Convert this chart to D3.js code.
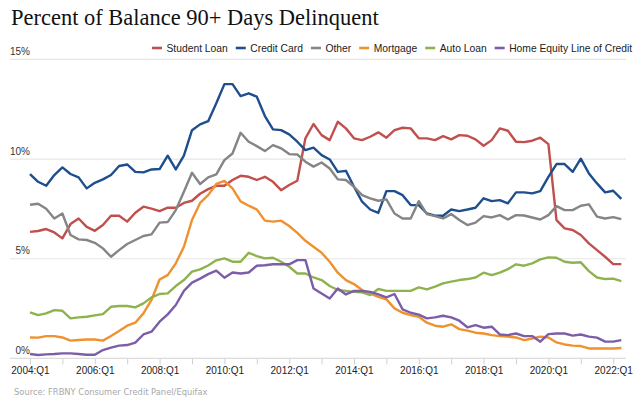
<!DOCTYPE html>
<html><head><meta charset="utf-8">
<script src="https://cdn.jsdelivr.net/npm/d3@7"></script>
<style>
html,body{margin:0;padding:0;background:#fff;}
svg{display:block;}
</style></head>
<body>
<svg id="chart" width="640" height="404"></svg>
<script>
// ---- data ----
const startYear = 2004; // quarters from 2004:Q1 to 2022:Q2
const seriesNames = ["Student Loan","Credit Card","Other","Mortgage","Auto Loan","Home Equity Line of Credit"];
const seriesColors = ["#c0504d","#1f4e8c","#858585","#f0912f","#8fb24f","#7b5ea7"];
const studentLoan = [6.35,6.39,6.49,6.32,6.02,6.74,7.02,6.6,6.4,6.69,7.16,7.16,6.86,7.31,7.61,7.51,7.39,7.56,7.56,7.8,
  7.91,8.26,8.49,8.66,8.66,8.95,9.16,9.11,8.95,9.11,8.86,8.44,8.7,8.91,11.04,11.76,11.2,10.95,11.87,11.54,
  11.04,10.95,11.12,11.34,11.07,11.45,11.57,11.54,11.04,11.04,10.95,11.15,10.99,11.2,11.17,10.99,10.67,10.95,11.54,11.42,
  10.87,10.85,10.92,11.07,10.75,6.94,6.52,6.44,6.19,5.77,5.43,5.1,4.73,4.73];
const creditCard = [9.25,8.86,8.66,9.2,9.58,9.25,9.08,8.53,8.81,8.98,9.2,9.65,9.73,9.36,9.33,9.48,9.5,10.17,9.48,10.17,
  11.45,11.74,11.9,12.8,13.76,13.76,13.16,13.3,13.13,12.16,11.49,11.45,11.24,10.87,10.45,10.57,10.2,9.98,9.36,9.41,
  8.61,7.86,7.47,7.3,8.39,8.39,8.19,7.69,7.69,7.27,7.16,7.16,7.47,7.39,7.47,7.56,8.03,7.89,7.94,7.78,
  8.33,8.33,8.28,8.39,9.11,9.75,9.75,9.36,10.02,9.28,8.78,8.33,8.41,8.0];
const other = [7.71,7.76,7.51,7.02,7.27,6.19,5.97,5.94,5.8,5.52,5.1,5.43,5.74,5.94,6.14,6.22,6.81,6.84,7.44,8.36,
  9.31,8.75,9.08,9.23,9.95,10.28,11.32,10.87,10.65,10.4,10.7,10.54,10.25,10.23,9.87,9.62,9.83,9.53,8.98,8.95,
  8.61,8.19,8.03,7.91,7.98,7.27,7.02,7.02,7.89,7.24,7.14,7.02,7.24,6.94,6.69,6.81,7.14,7.07,7.19,6.97,
  7.19,7.17,7.07,6.97,7.19,7.64,7.44,7.44,7.66,7.73,7.11,7.02,7.09,6.99];
const mortgage = [1.05,1.04,1.12,1.12,1.05,0.89,0.92,0.95,0.95,0.89,1.12,1.37,1.64,1.79,2.26,2.93,3.96,4.18,4.77,5.6,
  6.94,7.8,8.19,8.75,8.9,8.53,7.88,7.66,7.47,6.91,6.86,6.91,6.64,6.3,5.9,5.6,5.3,4.85,4.3,3.93,
  3.73,3.43,3.26,3.09,2.96,2.51,2.29,2.17,2.09,1.79,1.64,1.59,1.71,1.47,1.39,1.29,1.25,1.17,1.12,1.09,
  1.05,0.92,1.0,1.09,1.05,0.8,0.7,0.64,0.62,0.5,0.5,0.5,0.5,0.52];
const autoLoan = [2.31,2.17,2.26,2.42,2.39,2.01,2.06,2.09,2.16,2.22,2.59,2.63,2.63,2.56,2.76,3.06,3.23,3.26,3.63,3.93,
  4.35,4.47,4.66,4.92,5.02,4.85,4.85,5.3,5.13,5.02,5.05,4.85,4.6,4.26,4.26,4.06,3.93,3.63,3.43,3.39,
  3.34,3.31,3.18,3.48,3.39,3.39,3.39,3.39,3.56,3.46,3.6,3.76,3.85,3.93,3.98,4.06,4.3,4.18,4.3,4.48,
  4.72,4.65,4.77,4.97,5.07,5.05,4.85,4.8,4.82,4.38,4.06,3.98,4.0,3.88];
const heloc = [0.22,0.17,0.2,0.22,0.25,0.25,0.22,0.18,0.18,0.42,0.54,0.64,0.67,0.79,1.2,1.34,1.84,2.21,2.68,3.39,
  3.8,4.0,4.23,4.4,4.05,4.31,4.26,4.31,4.65,4.67,4.72,4.72,4.72,4.93,4.93,3.51,3.26,3.01,3.51,3.21,
  3.39,3.38,3.34,3.21,3.06,3.23,2.46,2.29,2.2,2.01,2.06,2.14,2.06,1.89,1.56,1.67,1.54,1.59,1.2,1.17,
  1.25,1.12,1.12,0.84,1.22,1.25,1.25,1.14,1.2,1.09,1.04,0.84,0.84,0.92];
const yTicks = [0,5,10,15];
const xTickLabels = ["2004:Q1","2006:Q1","2008:Q1","2010:Q1","2012:Q1","2014:Q1","2016:Q1","2018:Q1","2020:Q1","2022:Q1"];
const titleText = "Percent of Balance 90+ Days Delinquent";
const sourceText = "Source: FRBNY Consumer Credit Panel/Equifax";

const allSeries = [studentLoan, creditCard, other, mortgage, autoLoan, heloc];
const nQ = studentLoan.length;

// ---- layout ----
const svg = d3.select("#chart");
const x = d3.scaleLinear().domain([0, nQ - 1]).range([30, 621.3]);
const y = d3.scaleLinear().domain([0, 15]).range([358.4, 59.4]);
const gridLeft = 10, gridRight = 626;

// title
const title = svg.append("text")
  .attr("x", 11).attr("y", 25)
  .attr("font-family", "'Liberation Serif', 'Times New Roman', serif")
  .attr("font-size", 23).attr("fill", "#111")
  .text(titleText);
{
  const w = title.node().getComputedTextLength();
  const fs = 23 * 368 / w;
  title.attr("font-size", Math.min(fs, 25));
}

// gridlines
svg.append("g").selectAll("line").data(yTicks.filter(d => d > 0)).join("line")
  .attr("x1", gridLeft).attr("x2", gridRight)
  .attr("y1", d => y(d)).attr("y2", d => y(d))
  .attr("stroke", "#e6e6e6").attr("stroke-width", 1.2);

// y labels
svg.append("g").selectAll("text").data(yTicks).join("text")
  .attr("x", 30).attr("y", d => y(d) - 4.5)
  .attr("text-anchor", "end")
  .attr("font-family", "'Liberation Sans', Arial, sans-serif")
  .attr("font-size", 10).attr("fill", "#333")
  .text(d => d + "%");

// x axis
const tickIdx = d3.range(0, nQ, 4);
const labelIdx = tickIdx.filter((d, i) => i % 2 === 0);
const xAxis = d3.axisBottom(x)
  .tickValues(tickIdx)
  .tickSize(6)
  .tickFormat(d => labelIdx.includes(d) ? xTickLabels[labelIdx.indexOf(d)] : "");
const gx = svg.append("g").attr("transform", `translate(0,${y(0)})`).call(xAxis);
gx.select(".domain").remove();
gx.selectAll(".tick line").attr("stroke", "#d0d0d0").attr("stroke-width", 1);
gx.selectAll(".tick text")
  .attr("font-family", "'Liberation Sans', Arial, sans-serif")
  .attr("font-size", 10).attr("fill", "#222").attr("dy", "0.71em").attr("y", 9);
svg.append("line")
  .attr("x1", gridLeft).attr("x2", gridRight)
  .attr("y1", y(0)).attr("y2", y(0))
  .attr("stroke", "#dcdcdc").attr("stroke-width", 1.2);

// lines
const line = d3.line().x((d, i) => x(i)).y(d => y(d));
svg.append("g").selectAll("path").data(allSeries).join("path")
  .attr("d", d => line(d))
  .attr("fill", "none")
  .attr("stroke", (d, i) => seriesColors[i])
  .attr("stroke-width", 2.4)
  .attr("stroke-linejoin", "round")
  .attr("stroke-linecap", "butt");

// legend
const leg = svg.append("g");
let lx = 152;
seriesNames.forEach((name, i) => {
  leg.append("line").attr("x1", lx).attr("x2", lx + 10)
    .attr("y1", 48).attr("y2", 48)
    .attr("stroke", seriesColors[i]).attr("stroke-width", 2.6);
  const t = leg.append("text").attr("x", lx + 14.5).attr("y", 51.6)
    .attr("font-family", "'Liberation Sans', Arial, sans-serif")
    .attr("font-size", 10.3).attr("fill", "#222").text(name);
  lx += 14.5 + t.node().getComputedTextLength() + 8;
});

// source
const src = svg.append("text").attr("x", 14).attr("y", 395)
  .attr("font-family", "'DejaVu Sans', Verdana, sans-serif")
  .attr("font-size", 9).attr("fill", "#a8a8a8").text(sourceText);
{
  const w = src.node().getComputedTextLength();
  src.attr("font-size", 9 * 194 / w);
}
</script>
</body></html>
